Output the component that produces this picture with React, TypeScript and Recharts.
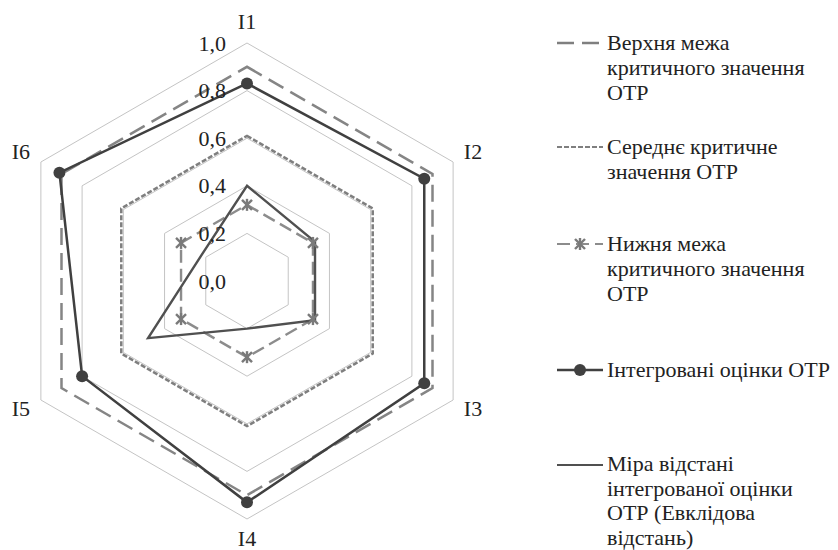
import React from 'react';
import { RadarChart, Radar, PolarGrid, PolarAngleAxis, PolarRadiusAxis } from 'recharts';

const categories = ['I1', 'I2', 'I3', 'I4', 'I5', 'I6'];
const upperBound = [0.9, 0.9, 0.9, 0.9, 0.9, 0.9];
const meanCritical = [0.61, 0.61, 0.61, 0.61, 0.61, 0.61];
const lowerBound = [0.32, 0.32, 0.32, 0.32, 0.32, 0.32];
const integrated = [0.83, 0.86, 0.86, 0.93, 0.8, 0.91];
const distance = [0.4, 0.33, 0.33, 0.2, 0.48, 0.22];
const radiusTicks = [0, 0.2, 0.4, 0.6, 0.8, 1.0];

const seriesNames = [
  'Верхня межа критичного значення ОТР',
  'Середнє критичне значення ОТР',
  'Нижня межа критичного значення ОТР',
  'Інтегровані оцінки ОТР',
  'Міра відстані інтегрованої оцінки ОТР (Евклідова відстань)',
];

// legend text lines as they wrap in the original
const legendLines = [
  ['Верхня межа', 'критичного значення', 'ОТР'],
  ['Середнє критичне', 'значення ОТР'],
  ['Нижня межа', 'критичного значення', 'ОТР'],
  ['Інтегровані оцінки ОТР'],
  ['Міра відстані', 'інтегрованої оцінки', 'ОТР (Евклідова', 'відстань)'],
];
const legendTops = [31, 135, 232, 358, 453];

const data = categories.map((name, i) => ({
  name,
  upper: upperBound[i],
  mean: meanCritical[i],
  lower: lowerBound[i],
  integrated: integrated[i],
  distance: distance[i],
}));

const CX = 247;
const CY = 281;
const R = 238;
const FONT = "'Liberation Serif', 'DejaVu Serif', 'Times New Roman', Times, serif";

const AngleTick = (props: any) => {
  const { x, y, payload } = props;
  const dx = x - CX;
  const dy = y - CY;
  const len = Math.sqrt(dx * dx + dy * dy) || 1;
  const tx = CX + (dx / len) * (R + 23);
  const ty = CY + (dy / len) * (R + 22) - (dy > 100 ? 3 : 0);
  return (
    <text x={tx} y={ty} textAnchor="middle" dominantBaseline="central" fontSize={22} fill="#222" style={{ fontFamily: FONT }}>
      {payload.value}
    </text>
  );
};

const RadiusTick = (props: any) => {
  const { y, payload } = props;
  return (
    <text x={CX - 21} y={y} textAnchor="end" dominantBaseline="central" fontSize={22} fill="#222" style={{ fontFamily: FONT }}>
      {Number(payload.value).toFixed(1).replace('.', ',')}
    </text>
  );
};

const StarDot = (props: any) => {
  const { cx, cy } = props;
  if (cx == null || cy == null) return null;
  return (
    <g stroke="#7a7a7a" strokeWidth={2.4}>
      <line x1={cx - 5} y1={cy - 5} x2={cx + 5} y2={cy + 5} />
      <line x1={cx - 5} y1={cy + 5} x2={cx + 5} y2={cy - 5} />
      <line x1={cx} y1={cy - 6} x2={cx} y2={cy + 6} />
    </g>
  );
};

const LegendIcon = ({ index }: { index: number }) => {
  const y = 12;
  return (
    <svg width={48} height={24} style={{ display: 'block' }}>
      {index === 0 && <line x1={0} y1={y} x2={46} y2={y} stroke="#7f7f7f" strokeWidth={2.5} strokeDasharray="17 8" />}
      {index === 1 && <line x1={0} y1={y} x2={46} y2={y} stroke="#7f7f7f" strokeWidth={2} strokeDasharray="5 2" />}
      {index === 2 && (
        <g>
          <line x1={0} y1={y} x2={46} y2={y} stroke="#8c8c8c" strokeWidth={2.2} strokeDasharray="13 6" />
          <StarDot cx={23} cy={y} />
        </g>
      )}
      {index === 3 && (
        <g>
          <line x1={0} y1={y} x2={46} y2={y} stroke="#404040" strokeWidth={2.5} />
          <circle cx={23} cy={y} r={6} fill="#404040" />
        </g>
      )}
      {index === 4 && <line x1={0} y1={y} x2={46} y2={y} stroke="#505050" strokeWidth={2.2} />}
    </svg>
  );
};

export default function App() {
  return (
    <div style={{ position: 'absolute', left: 0, top: 0, width: 838, height: 550, background: '#fff', fontFamily: FONT }}>
      <RadarChart
        width={838}
        height={550}
        data={data}
        cx={CX}
        cy={CY}
        outerRadius={R}
        margin={{ top: 0, right: 0, bottom: 0, left: 0 }}
      >
        <PolarGrid gridType="polygon" radialLines={false} stroke="#c4c4c4" strokeWidth={1} />
        <PolarAngleAxis dataKey="name" tick={<AngleTick />} axisLine={false} tickLine={false} />
        <PolarRadiusAxis
          angle={90}
          domain={[0, 1]}
          ticks={radiusTicks as any}
          tickCount={6}
          tick={<RadiusTick />}
          axisLine={false}
          tickLine={false}
        />
        <Radar name={seriesNames[0]} dataKey="upper" stroke="#858585" strokeWidth={2.5} strokeDasharray="17 8" fillOpacity={0} dot={false} isAnimationActive={false} />
        <Radar name={seriesNames[1]} dataKey="mean" stroke="#7f7f7f" strokeWidth={2.5} strokeDasharray="5 2" fillOpacity={0} dot={false} isAnimationActive={false} />
        <Radar name={seriesNames[2]} dataKey="lower" stroke="#8c8c8c" strokeWidth={2.4} strokeDasharray="13 6" fillOpacity={0} dot={<StarDot />} isAnimationActive={false} />
        <Radar
          name={seriesNames[3]}
          dataKey="integrated"
          stroke="#404040"
          strokeWidth={2.5}
          fillOpacity={0}
          dot={{ r: 6, fill: '#404040', stroke: '#404040', strokeWidth: 0, fillOpacity: 1 }}
          isAnimationActive={false}
        />
        <Radar name={seriesNames[4]} dataKey="distance" stroke="#505050" strokeWidth={2.4} fillOpacity={0} dot={false} isAnimationActive={false} />
      </RadarChart>

      {legendLines.map((lines, i) => (
        <div key={i} style={{ position: 'absolute', left: 557, top: legendTops[i], display: 'flex', alignItems: 'flex-start' }}>
          <LegendIcon index={i} />
          <div style={{ marginLeft: 2, fontSize: 22, lineHeight: i === 4 ? '24.5px' : '25px', color: '#222', marginTop: -1, fontFamily: FONT }}>
            {lines.map((l, j) => (
              <div key={j} style={{ whiteSpace: 'nowrap' }}>{l}</div>
            ))}
          </div>
        </div>
      ))}
    </div>
  );
}
